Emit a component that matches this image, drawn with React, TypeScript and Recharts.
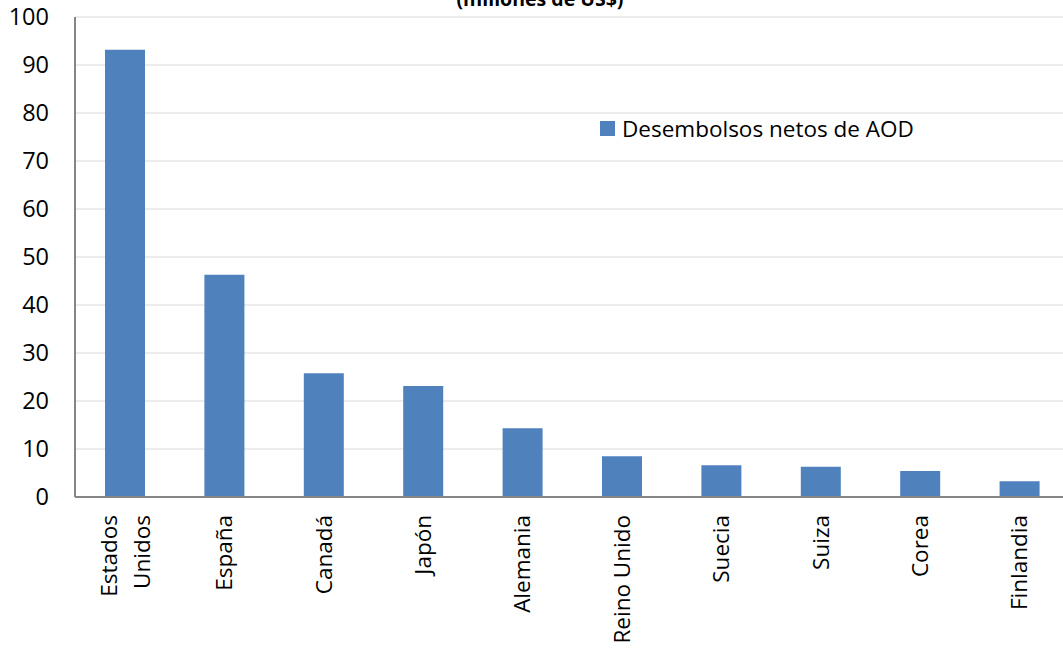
import React from "react";
import { BarChart, Bar, XAxis, YAxis, CartesianGrid, Legend } from "recharts";

const categories = ["Estados Unidos", "España", "Canadá", "Japón", "Alemania", "Reino Unido", "Suecia", "Suiza", "Corea", "Finlandia"];
const values = [93.2, 46.3, 25.8, 23.1, 14.3, 8.5, 6.6, 6.3, 5.4, 3.3];
const yTicks = [0, 10, 20, 30, 40, 50, 60, 70, 80, 90, 100];
const seriesName = "Desembolsos netos de AOD";
const title = "(millones de US$)";

const data = categories.map((c, i) => ({ name: c, value: values[i] }));

const FONT = "'Open Sans', sans-serif";
const XFS = 22.5;

const XTick = (props: any) => {
  const { x, y, payload } = props;
  const label: string = payload.value;
  const top = y + 18;
  if (label === "Estados Unidos") {
    const parts = label.split(" ");
    return (
      <g>
        <text x={x - 16} y={top} transform={`rotate(-90, ${x - 16}, ${top})`} textAnchor="end" dy="0.36em" fontSize={XFS} fontFamily={FONT} fill="#000">{parts[0]}</text>
        <text x={x + 17} y={top} transform={`rotate(-90, ${x + 17}, ${top})`} textAnchor="end" dy="0.36em" fontSize={XFS} fontFamily={FONT} fill="#000">{parts[1]}</text>
      </g>
    );
  }
  return (
    <text x={x} y={top} transform={`rotate(-90, ${x}, ${top})`} textAnchor="end" dy="0.36em" fontSize={XFS} fontFamily={FONT} fill="#000">{label}</text>
  );
};

const LegendContent = () => (
  <div style={{ display: "flex", alignItems: "center", fontFamily: FONT, fontSize: 22.5, color: "#000", whiteSpace: "nowrap" }}>
    <span style={{ display: "inline-block", width: 15, height: 15, background: "#4f81bd", marginRight: 7 }} />
    <span>{seriesName}</span>
  </div>
);

export default function App() {
  return (
    <div style={{ position: "absolute", top: 0, left: 0, width: 1063, height: 651, overflow: "hidden", background: "#fff" }}>
      <BarChart width={1069} height={651} data={data} margin={{ top: 17, right: 0, bottom: 0, left: 0 }}>
        <CartesianGrid vertical={false} stroke="#d9d9d9" strokeWidth={1} />
        <XAxis dataKey="name" height={154} interval={0} tickLine={false} tickSize={0} tickMargin={0} axisLine={{ stroke: "#868686", strokeWidth: 2 }} tick={<XTick />} />
        <YAxis width={75} domain={[0, 100]} ticks={yTicks} tickLine={false} tickSize={0} tickMargin={26} axisLine={{ stroke: "#868686", strokeWidth: 2 }} tick={{ fontSize: 23.5, fontFamily: FONT, fill: "#000" }} />
        <Legend content={<LegendContent />} layout="vertical" verticalAlign="middle" align="center" wrapperStyle={{ top: 113, left: 600, width: "auto", height: "auto" }} />
        <Bar dataKey="value" name={seriesName} fill="#4f81bd" barSize={40} isAnimationActive={false} />
      </BarChart>
      <div style={{ position: "absolute", top: -14, left: 0, width: 1080, textAlign: "center", fontFamily: FONT, fontWeight: "bold", fontSize: 19.5, color: "#000", lineHeight: "26px" }}>{title}</div>
    </div>
  );
}
